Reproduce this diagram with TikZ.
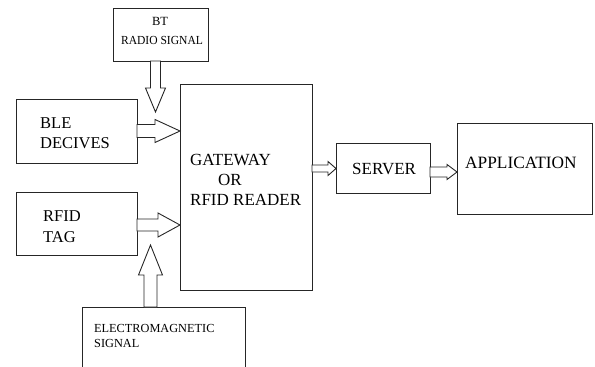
\documentclass[tikz,border=0pt]{standalone}
\usepackage{fontspec}
\setmainfont{Liberation Serif}
\usetikzlibrary{calc}
\tikzset{
  box/.style={draw=black!85, line width=1pt, fill=white, inner sep=0pt},
  lbl/.style={inner sep=0pt, anchor=base west, text=black},
  blk/.style={draw=black!85, line width=0.9pt, fill=white, line join=miter},
}
% horizontal block arrow (rightward): start, tip, shaft half, head half, head length
\newcommand{\harr}[5]{%
  \draw[blk] let \p1=(#1), \p2=(#2) in
    (\x1,\y1+#3pt) -- (\x2-#5pt,\y1+#3pt) -- (\x2-#5pt,\y1+#4pt) -- (\x2,\y1)
    -- (\x2-#5pt,\y1-#4pt) -- (\x2-#5pt,\y1-#3pt) -- (\x1,\y1-#3pt) -- cycle;}
% vertical block arrow (up or down)
\newcommand{\varr}[5]{%
  \draw[blk] let \p1=(#1), \p2=(#2), \n1={sign(\y1-\y2)} in
    (\x1+#3pt,\y1) -- (\x1+#3pt,\y2+\n1*#5pt) -- (\x1+#4pt,\y2+\n1*#5pt) -- (\x1,\y2)
    -- (\x1-#4pt,\y2+\n1*#5pt) -- (\x1-#3pt,\y2+\n1*#5pt) -- (\x1-#3pt,\y1) -- cycle;}
\begin{document}
\begin{tikzpicture}[x=1pt,y=-1pt]
\useasboundingbox (0,0) rectangle (595,367);
\clip (0,0) rectangle (595,367);
% boxes
\draw[box] (113,8) rectangle (208,61);
\draw[box] (16,99) rectangle (137,163);
\draw[box] (180,84) rectangle (312,290);
\draw[box] (16,192) rectangle (137,255);
\draw[box] (82,307) rectangle (245,380);
\draw[box] (336,143) rectangle (430,193);
\draw[box] (457,123) rectangle (592,214);
% named anchor nodes
\node[inner sep=0pt] (btS) at (155.5,61) {};
\node[inner sep=0pt] (btT) at (155.5,112) {};
\node[inner sep=0pt] (bleE) at (137,131) {};
\node[inner sep=0pt] (gwBle) at (180,131) {};
\node[inner sep=0pt] (rfE) at (137,225) {};
\node[inner sep=0pt] (gwRf) at (180,225) {};
\node[inner sep=0pt] (emN) at (150.5,307) {};
\node[inner sep=0pt] (emT) at (150.5,245) {};
\node[inner sep=0pt] (gwE) at (312,168.5) {};
\node[inner sep=0pt] (svW) at (336,168.5) {};
\node[inner sep=0pt] (svE) at (430,172) {};
\node[inner sep=0pt] (apW) at (457,172) {};
% block arrows
\varr{btS.center}{btT.center}{5}{10}{24}
\harr{bleE.center}{gwBle.center}{6.5}{11.5}{25}
\harr{rfE.center}{gwRf.center}{6}{12}{22}
\varr{emN.center}{emT.center}{6.5}{12}{30}
\harr{gwE.center}{svW.center}{3.5}{7}{8}
\harr{svE.center}{apW.center}{5}{7.5}{10}
% texts
\node[lbl, anchor=base, font=\fontsize{12.5}{14}\selectfont] (t1) at (160,25) {BT};
\node[lbl, anchor=base, font=\fontsize{12.3}{14}\selectfont\addfontfeatures{FakeStretch=0.94}] (t2) at (162,44) {RADIO SIGNAL};
\node[lbl, font=\fontsize{16.5}{18}\selectfont] (t3) at (40,128) {BLE};
\node[lbl, font=\fontsize{16.5}{18}\selectfont] (t4) at (40,148) {DECIVES};
\node[lbl, font=\fontsize{16.5}{18}\selectfont] (t5) at (43,221) {RFID};
\node[lbl, font=\fontsize{16.5}{18}\selectfont] (t6) at (43,242) {TAG};
\node[lbl, font=\fontsize{17}{18}\selectfont] (t7) at (190,165) {GATEWAY};
\node[lbl, font=\fontsize{17}{18}\selectfont] (t8) at (218,185) {OR};
\node[lbl, font=\fontsize{17}{18}\selectfont] (t9) at (190,205) {RFID READER};
\node[lbl, font=\fontsize{17}{18}\selectfont] (t10) at (352,174) {SERVER};
\node[lbl, font=\fontsize{17.3}{18}\selectfont] (t11) at (465,168) {APPLICATION};
\node[lbl, font=\fontsize{12.3}{14}\selectfont] (t12) at (94,332) {ELECTROMAGNETIC};
\node[lbl, font=\fontsize{12.3}{14}\selectfont] (t13) at (94,347) {SIGNAL};
\end{tikzpicture}
\end{document}
